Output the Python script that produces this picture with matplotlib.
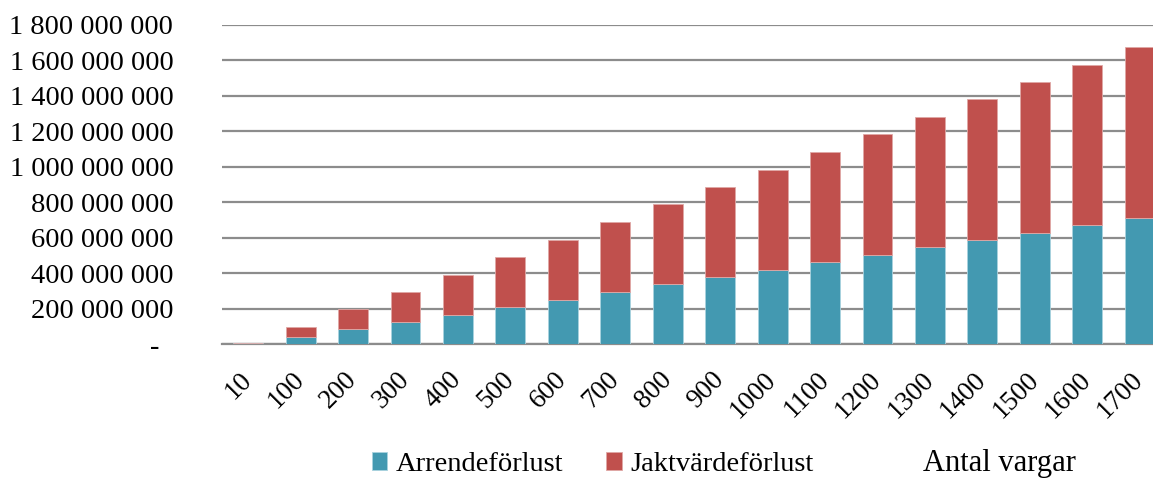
import numpy as np
import matplotlib
matplotlib.use('Agg')
import matplotlib.pyplot as plt
from matplotlib.ticker import FuncFormatter

# Data
antal = ['10', '100', '200', '300', '400', '500', '600', '700', '800',
         '900', '1000', '1100', '1200', '1300', '1400', '1500', '1600', '1700']
arrende = [3e6, 40e6, 83e6, 124e6, 165e6, 209e6, 250e6, 292e6, 337e6,
           378e6, 418e6, 461e6, 502e6, 546e6, 587e6, 626e6, 670e6, 713e6]
jaktvarde = [5e6, 56e6, 113e6, 168e6, 226e6, 282e6, 339e6, 396e6, 451e6,
             508e6, 565e6, 622e6, 681e6, 735e6, 794e6, 852e6, 906e6, 963e6]

blue = '#4399b1'
red = '#c0504d'
grid_col = '#8c8c8c'

plt.rcParams['font.family'] = ['Liberation Serif', 'DejaVu Serif']

fig = plt.figure(figsize=(11.53, 4.78), dpi=100)
ax = fig.add_axes([0.1925, 0.2803, 0.8187, 0.6674])

x = np.arange(len(antal))
ax.bar(x, arrende, width=0.57, color=blue, edgecolor='#a9d3df', linewidth=0.6,
       label='Arrendeförlust', zorder=3)
ax.bar(x, jaktvarde, width=0.57, bottom=arrende, color=red, edgecolor='#e0a8a6',
       linewidth=0.6, label='Jaktvärdeförlust', zorder=3)

ax.set_xlim(-0.5, len(antal) - 0.5)
ax.set_ylim(0, 1.8e9)
ax.set_yticks(np.arange(0, 1.8e9 + 1, 2e8))


def fmt(v, pos):
    if v == 0:
        return '-  '
    return f'{int(round(v)):,}'.replace(',', ' ')


ax.yaxis.set_major_formatter(FuncFormatter(fmt))
ax.grid(axis='y', color=grid_col, linewidth=1.6, zorder=0)
ax.set_axisbelow(True)
for s in ['top', 'right', 'left']:
    ax.spines[s].set_visible(False)
ax.spines['bottom'].set_color(grid_col)
ax.spines['bottom'].set_linewidth(1.6)
ax.tick_params(axis='y', length=0, pad=35, labelsize=20.5)
ax.tick_params(axis='x', length=0, pad=23, labelsize=19.5)

ax.set_xticks(x)
ax.set_xticklabels(antal, rotation=45, ha='right', va='center', rotation_mode='anchor')

leg = fig.legend(loc='center', bbox_to_anchor=(0.514, 0.028), ncol=2, frameon=False,
                 fontsize=20.5, handlelength=0.55, handleheight=0.55, handletextpad=0.3,
                 columnspacing=1.5)
fig.text(0.867, 0.03, 'Antal vargar', fontsize=22, ha='center', va='center')

fig.savefig('out.png', dpi=100)
